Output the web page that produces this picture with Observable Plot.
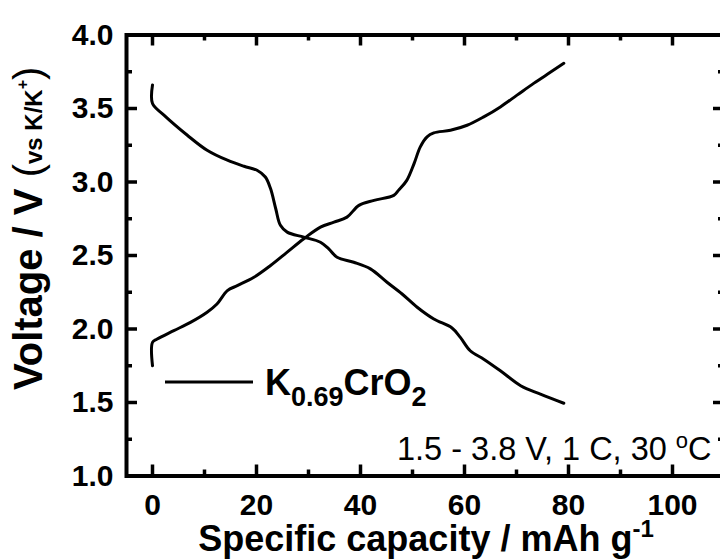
<!DOCTYPE html>
<html><head><meta charset="utf-8">
<script src="https://cdn.jsdelivr.net/npm/d3@7"></script>
<script src="https://cdn.jsdelivr.net/npm/@observablehq/plot@0.6"></script>
<style>
html,body{margin:0;padding:0;background:#fff;overflow:hidden;width:720px;height:560px}
</style></head><body><div id="chart"></div>
<script>
// Charge curve (capacity mAh/g, voltage V)
const chargeCap = [0, 0, 0.9, 4.1, 7.3, 10.5, 12.4, 14.4, 16.3, 19.5, 22.7, 25.9, 29.1, 32.3, 34.9, 37.4, 39.7, 42.6, 46.4, 47.3, 48.9, 50.3, 51.5, 52.8, 54.1, 57.3, 60.5, 63.7, 66.9, 70.1, 73.3, 76.5, 79.1];
const chargeV   = [1.75, 1.909, 1.932, 1.989, 2.045, 2.114, 2.17, 2.261, 2.295, 2.352, 2.432, 2.523, 2.614, 2.693, 2.727, 2.761, 2.841, 2.875, 2.909, 2.943, 3.011, 3.125, 3.239, 3.307, 3.334, 3.352, 3.386, 3.443, 3.511, 3.591, 3.671, 3.746, 3.807];
// Discharge curve
const dischargeCap = [0, 0, 2.2, 6.7, 10.5, 14.4, 17.6, 20.1, 21.7, 22.7, 23.7, 24.6, 25.9, 29.1, 32.3, 33.9, 35.5, 38.7, 41.9, 45.1, 48.0, 50.9, 54.1, 57.6, 59.2, 61.1, 63.7, 66.9, 70.8, 74.6, 79.1];
const dischargeV   = [3.66, 3.534, 3.455, 3.318, 3.216, 3.148, 3.107, 3.08, 3.034, 2.955, 2.818, 2.705, 2.659, 2.625, 2.59, 2.545, 2.488, 2.454, 2.409, 2.318, 2.238, 2.148, 2.068, 2.007, 1.943, 1.852, 1.795, 1.716, 1.614, 1.557, 1.495];

const xTicks = [0, 20, 40, 60, 80, 100];
const xMinorTicks = [10, 30, 50, 70, 90];
const yTicks = [1.0, 1.5, 2.0, 2.5, 3.0, 3.5, 4.0];
const yMinorTicks = [1.25, 1.75, 2.25, 2.75, 3.25, 3.75];

const charge = chargeCap.map((c, i) => ({cap: c, v: chargeV[i]}));
const discharge = dischargeCap.map((c, i) => ({cap: c, v: dischargeV[i]}));

const FONT = "'Liberation Sans', Arial, Helvetica, sans-serif";
const W = 724, H = 560, ML = 126, MR = 0, MT = 34.5, MB = 84.5;
const FW = W - ML - MR, FH = H - MT - MB;
const tk = {stroke: "#000", strokeWidth: 3.5};
// inward ticks: tick marks spanning the frame, inset down to a short stub
const tickL = (d, len) => Plot.tickY(d, {y: v => v, insetRight: FW - len, ...tk});
const tickR = (d, len) => Plot.tickY(d, {y: v => v, insetLeft: FW - len, ...tk});
const tickB = (d, len) => Plot.tickX(d, {x: v => v, insetTop: FH - len, ...tk});
const tickT = (d, len) => Plot.tickX(d, {x: v => v, insetBottom: FH - len, ...tk});

const plot = Plot.plot({
  width: W, height: H,
  marginLeft: ML, marginRight: MR, marginTop: MT, marginBottom: MB,
  x: {domain: [-5, 110]},
  y: {domain: [1, 4]},
  style: {fontFamily: FONT, color: "#000", background: "#fff"},
  marks: [
    Plot.axisX({anchor: "bottom", ticks: xTicks, tickSize: 0, tickPadding: 18, fontSize: 30, fontWeight: "bold", label: null}),
    Plot.axisY({anchor: "left", ticks: yTicks, tickFormat: d3.format(".1f"), tickSize: 0, tickPadding: 13, fontSize: 30, fontWeight: "bold", label: null}),
    tickB(xTicks, 11), tickB(xMinorTicks, 6),
    tickT(xTicks, 11), tickT(xMinorTicks, 6),
    tickL(yTicks, 11), tickL(yMinorTicks, 6),
    tickR(yTicks, 11), tickR(yMinorTicks, 6),
    Plot.line(discharge, {x: "cap", y: "v", curve: "catmull-rom", stroke: "#000", strokeWidth: 3}),
    Plot.line(charge, {x: "cap", y: "v", curve: "catmull-rom", stroke: "#000", strokeWidth: 3}),
    Plot.frame({stroke: "#000", strokeWidth: 4})
  ]
});
plot.style.maxWidth = "none";
document.getElementById("chart").appendChild(plot);

const svg = d3.select(plot);
// X axis title
const xt = svg.append("text")
  .attr("x", 426).attr("y", 551).attr("text-anchor", "middle")
  .attr("font-family", FONT).attr("font-weight", "bold").attr("font-size", 36).attr("fill", "#000");
xt.append("tspan").text("Specific capacity / mAh g");
xt.append("tspan").attr("font-size", 24).attr("dy", -14).text("-1");

// Y axis title
const yt = svg.append("text")
  .attr("transform", "translate(42,390) rotate(-90)").attr("text-anchor", "start")
  .attr("font-family", FONT).attr("font-weight", "bold").attr("font-size", 40).attr("fill", "#000");
yt.append("tspan").text("Voltage / V ");
yt.append("tspan").attr("font-weight", "normal").text("(");
yt.append("tspan").attr("font-size", 24).text("vs K/K");
yt.append("tspan").attr("font-size", 16).attr("dy", -14).text("+");
yt.append("tspan").attr("font-weight", "normal").attr("dy", 14).text(")");

// Legend
svg.append("line").attr("x1", 165).attr("x2", 253).attr("y1", 382).attr("y2", 382)
  .attr("stroke", "#000").attr("stroke-width", 3);
const lg = svg.append("text").attr("x", 265).attr("y", 395).attr("text-anchor", "start")
  .attr("font-family", FONT).attr("font-weight", "bold").attr("font-size", 36).attr("fill", "#000");
lg.append("tspan").text("K");
lg.append("tspan").attr("font-size", 27).attr("dy", 11).text("0.69");
lg.append("tspan").attr("dy", -11).text("CrO");
lg.append("tspan").attr("font-size", 27).attr("dy", 11).text("2");

// Condition annotation
const an = svg.append("text").attr("x", 397).attr("y", 460).attr("text-anchor", "start")
  .attr("font-family", FONT).attr("font-size", 32.5).attr("fill", "#000");
an.append("tspan").text("1.5 - 3.8 V, 1 C, 30 ");
an.append("tspan").attr("font-size", 22).attr("dy", -12).text("o");
an.append("tspan").attr("dy", 12).text("C");
</script></body></html>
